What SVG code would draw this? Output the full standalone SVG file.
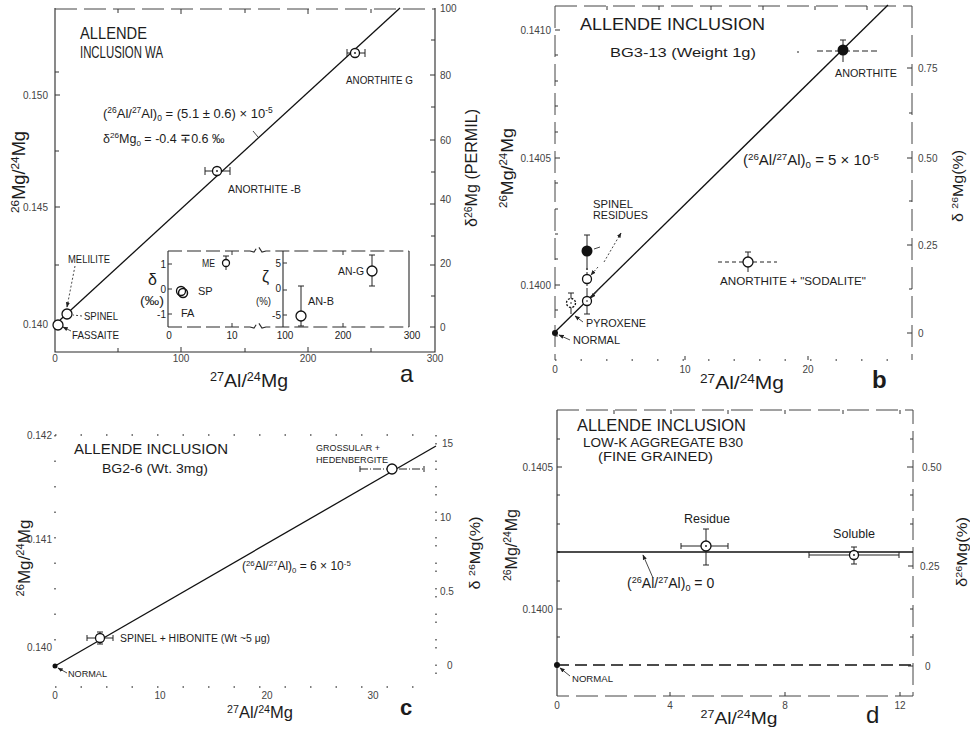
<svg xmlns="http://www.w3.org/2000/svg" width="970" height="731" viewBox="0 0 970 731">
<defs>
<style>
.t{font-family:"Liberation Sans",Arial,sans-serif;fill:#1c1c1c}
.tk{font-size:10px;fill:#444}
.s{font-size:11px}
.sp{font-size:65%}
.ax{stroke:#2a2a2a;stroke-width:1.1;fill:none}
.ad{stroke:#444;stroke-width:1;fill:none;stroke-dasharray:22,7}
.dt{stroke:#555;stroke-width:1.5;fill:none;stroke-dasharray:1.5,24}
.tic{stroke:#333;stroke-width:1;fill:none}
.ln{stroke:#111;stroke-width:1.3;fill:none}
.eb{stroke:#222;stroke-width:1;fill:none}
.oc{fill:#fff;stroke:#111;stroke-width:1.3}
.fc{fill:#111}
.ld{stroke:#333;stroke-width:0.9;fill:none;stroke-dasharray:2,2}
.la{stroke:#333;stroke-width:0.9;fill:none}
</style>
<marker id="ah" viewBox="0 0 8 8" refX="7" refY="4" markerWidth="6" markerHeight="6" orient="auto"><path d="M0,1 L8,4 L0,7 z" fill="#222"/></marker>
</defs>
<rect width="970" height="731" fill="#fff"/>

<!-- ================= PANEL A ================= -->
<g id="panel-a">
<g id="a-axes">
<path class="ax" d="M55,8 V352 H435 V8"/>
<path class="ad" d="M55,9 H435"/>
<path class="tic" d="M55,72 h4 M55,95 h5 M55,151 h4 M55,207 h5 M55,265 h4 M55,324 h5 M435,40 h-4 M435,75 h-5 M435,107 h-4 M435,140 h-5 M435,172 h-4 M435,204 h-5 M435,236 h-4 M435,265 h-5 M435,296 h-4 M435,327 h-5 M118,352 v-4 M181,352 v-5 M245,352 v-4 M308,352 v-5 M371,352 v-4 M118,9 v4 M181,9 v5 M245,9 v4 M308,9 v5 M371,9 v4"/>
<g class="t tk">
<text x="48" y="99" text-anchor="end">0.150</text>
<text x="48" y="211" text-anchor="end">0.145</text>
<text x="48" y="328" text-anchor="end">0.140</text>
<text x="440" y="12">100</text>
<text x="440" y="79">80</text>
<text x="440" y="144">60</text>
<text x="440" y="203">40</text>
<text x="440" y="267">20</text>
<text x="440" y="331">0</text>
<text x="55" y="362" text-anchor="middle">0</text>
<text x="181" y="362" text-anchor="middle">100</text>
<text x="308" y="362" text-anchor="middle">200</text>
<text x="435" y="362" text-anchor="middle">300</text>
</g>
<text class="t" font-size="18" transform="translate(25,172) rotate(-90)" text-anchor="middle" textLength="82" lengthAdjust="spacingAndGlyphs"><tspan class="sp" dy="-6">26</tspan><tspan dy="6">Mg/</tspan><tspan class="sp" dy="-6">24</tspan><tspan dy="6">Mg</tspan></text>
<text class="t" font-size="16" transform="translate(477,168) rotate(-90)" text-anchor="middle" textLength="118" lengthAdjust="spacingAndGlyphs">δ<tspan class="sp" dy="-5">26</tspan><tspan dy="5">Mg (PERMIL)</tspan></text>
<text class="t" font-size="19" x="249" y="387" text-anchor="middle" textLength="78" lengthAdjust="spacingAndGlyphs"><tspan class="sp" dy="-6">27</tspan><tspan dy="6">Al/</tspan><tspan class="sp" dy="-6">24</tspan><tspan dy="6">Mg</tspan></text>
<text class="t" font-size="24" x="400" y="382">a</text>
</g>
<g id="a-title" class="t">
<text x="80" y="39" font-size="16.5" textLength="67" lengthAdjust="spacingAndGlyphs">ALLENDE</text>
<text x="80" y="58" font-size="16.5" textLength="83" lengthAdjust="spacingAndGlyphs">INCLUSION WA</text>
<text x="103" y="118" font-size="13">(<tspan class="sp" dy="-5">26</tspan><tspan dy="5">Al/</tspan><tspan class="sp" dy="-5">27</tspan><tspan dy="5">Al)</tspan><tspan class="sp" dy="3">0</tspan><tspan dy="-3"> = (5.1 ± 0.6) × 10</tspan><tspan class="sp" dy="-5">-5</tspan></text>
<text x="103" y="143" font-size="12.5">δ<tspan class="sp" dy="-5">26</tspan><tspan dy="5">Mg</tspan><tspan class="sp" dy="3">0</tspan><tspan dy="-3"> = -0.4 ∓0.6 ‰</tspan></text>
</g>
<g id="a-fit">
<path class="ln" stroke-width="1.6" d="M60,320 L400,8"/>
<path class="la" d="M253,131 L258,137"/>
</g>
<g id="a-anorthite-g">
<path class="eb" d="M347,53 H365 M347,49 V57 M365,49 V57"/>
<circle class="oc" cx="355" cy="53" r="4.5"/><circle class="fc" cx="355" cy="53" r="0.9"/>
<text class="t s" x="346" y="84" textLength="67" lengthAdjust="spacingAndGlyphs">ANORTHITE G</text>
</g>
<g id="a-anorthite-b">
<path class="eb" d="M205,171 H230 M205,167 V175 M230,167 V175"/>
<circle class="oc" cx="217" cy="171" r="4.5"/><circle class="fc" cx="217" cy="171" r="0.9"/>
<text class="t s" x="228" y="193" textLength="73" lengthAdjust="spacingAndGlyphs">ANORTHITE -B</text>
</g>
<g id="a-low-points">
<circle class="oc" cx="58" cy="325" r="5"/>
<circle class="oc" cx="67" cy="314" r="5"/>
<text class="t s" x="68" y="263" textLength="42" lengthAdjust="spacingAndGlyphs">MELILITE</text>
<text class="t s" x="84" y="320" textLength="34" lengthAdjust="spacingAndGlyphs">SPINEL</text>
<text class="t s" x="72" y="339" textLength="47" lengthAdjust="spacingAndGlyphs">FASSAITE</text>
</g>
<g id="a-inset">
<path class="ax" d="M168,251 V327 M283,251 V327 M409,251 V327"/>
<path class="ax" stroke-dasharray="14,5" d="M168,251 H250 L254,252 L258,246 L262,252 L266,251 H409 M168,327 H250 L254,328 L258,322 L262,328 L266,327 H409"/>
<path class="tic" d="M168,264 h4 M168,289 h4 M168,314 h4 M283,263 h4 M283,290 h4 M283,315 h4 M232,327 v-4 M232,251 v4 M343,327 v-4 M343,251 v4"/>
<g class="t" font-size="10" fill="#444">
<text x="166" y="268" text-anchor="end">1</text>
<text x="166" y="293" text-anchor="end">0</text>
<text x="166" y="318" text-anchor="end">-1</text>
<text x="281" y="267" text-anchor="end">5</text>
<text x="281" y="292" text-anchor="end">0</text>
<text x="281" y="319" text-anchor="end">-5</text>
<text x="169" y="339" text-anchor="middle">0</text>
<text x="232" y="339" text-anchor="middle">10</text>
<text x="285" y="339" text-anchor="middle">100</text>
<text x="343" y="339" text-anchor="middle">200</text>
<text x="412" y="339" text-anchor="middle">300</text>
</g>
<text class="t" font-size="16" x="148" y="285">δ</text>
<text class="t" font-size="12" x="140" y="305" textLength="24" lengthAdjust="spacingAndGlyphs">(‰)</text>
<text class="t" font-size="16" x="262" y="282">ζ</text>
<text class="t" font-size="11" x="256" y="305" textLength="15" lengthAdjust="spacingAndGlyphs">(%)</text>
<path class="eb" d="M226,256 V270 M223,256 H229"/>
<circle class="oc" cx="226" cy="263" r="3.5"/>
<text class="t" font-size="10" x="202" y="267" textLength="13" lengthAdjust="spacingAndGlyphs">ME</text>
<circle class="oc" cx="181" cy="291" r="4.5" stroke-width="1.7"/>
<circle cx="183" cy="293" r="4.5" fill="none" stroke="#111" stroke-width="1.5"/>
<text class="t s" x="198" y="295">SP</text>
<text class="t s" x="181" y="317">FA</text>
<path class="eb" d="M301,286 V326 M298,286 H304 M298,326 H304"/>
<circle class="oc" cx="301" cy="316" r="5"/>
<text class="t s" x="308" y="305" textLength="26" lengthAdjust="spacingAndGlyphs">AN-B</text>
<path class="eb" d="M372,255 V286 M369,255 H375 M369,286 H375"/>
<circle class="oc" cx="372" cy="271" r="5"/>
<text class="t s" x="338" y="275" textLength="26" lengthAdjust="spacingAndGlyphs">AN-G</text>
</g>
</g>

<!-- ================= PANEL B ================= -->
<g id="panel-b">
<g id="b-axes">
<path class="ad" d="M555,6 V360 M912,6 V360 M555,6 H912"/>
<path class="dt" d="M555,360 H912"/>
<path class="tic" d="M555,30 h5 M555,55 h3 M555,81 h3 M555,106 h3 M555,132 h3 M555,158 h5 M555,183 h3 M555,209 h3 M555,234 h3 M555,259 h3 M555,285 h5 M555,310 h3 M555,336 h3 M912,68 h-5 M912,113 h-3 M912,158 h-5 M912,201 h-3 M912,245 h-5 M912,289 h-3 M912,333 h-5 M607,6 v4 M659,6 v4 M711,6 v4 M763,6 v4 M815,6 v4 M867,6 v4 M685,360 v-4 M808,360 v-4"/>
<g class="t tk">
<text x="551" y="34" text-anchor="end">0.1410</text>
<text x="551" y="162" text-anchor="end">0.1405</text>
<text x="551" y="289" text-anchor="end">0.1400</text>
<text x="918" y="72">0.75</text>
<text x="918" y="162">0.50</text>
<text x="918" y="249">0.25</text>
<text x="918" y="337">0</text>
<text x="555" y="373" text-anchor="middle">0</text>
<text x="685" y="373" text-anchor="middle">10</text>
<text x="808" y="373" text-anchor="middle">20</text>
</g>
<text class="t" font-size="17" transform="translate(513,168) rotate(-90)" text-anchor="middle" textLength="80" lengthAdjust="spacingAndGlyphs"><tspan class="sp" dy="-6">26</tspan><tspan dy="6">Mg/</tspan><tspan class="sp" dy="-6">24</tspan><tspan dy="6">Mg</tspan></text>
<text class="t" font-size="15" transform="translate(963,186) rotate(-90)" text-anchor="middle" textLength="72" lengthAdjust="spacingAndGlyphs">δ <tspan class="sp" dy="-5">26</tspan><tspan dy="5">Mg(%)</tspan></text>
<text class="t" font-size="19" x="742" y="389" text-anchor="middle" textLength="84" lengthAdjust="spacingAndGlyphs"><tspan class="sp" dy="-6">27</tspan><tspan dy="6">Al/</tspan><tspan class="sp" dy="-6">24</tspan><tspan dy="6">Mg</tspan></text>
<text class="t" font-size="24" font-weight="bold" x="872" y="388">b</text>
</g>
<g id="b-title" class="t">
<text x="580" y="30" font-size="17" textLength="185" lengthAdjust="spacingAndGlyphs">ALLENDE  INCLUSION</text>
<text x="610" y="57" font-size="13" textLength="146" lengthAdjust="spacingAndGlyphs">BG3-13 (Weight 1g)</text>
<text x="743" y="165" font-size="15">(<tspan class="sp" dy="-5">26</tspan><tspan dy="5">Al/</tspan><tspan class="sp" dy="-5">27</tspan><tspan dy="5">Al)</tspan><tspan class="sp" dy="3">0</tspan><tspan dy="-3"> = 5 × 10</tspan><tspan class="sp" dy="-5">-5</tspan></text>
</g>
<g id="b-fit"><path class="ln" d="M555,332 L888,5"/></g>
<g id="b-anorthite">
<path class="eb" d="M843,40 V62 M840,40 H846"/>
<path class="eb" stroke-dasharray="6,3" d="M797,52 H799 M817,51 H880"/>
<circle class="fc" cx="843" cy="50" r="5.5"/>
<text class="t s" x="835" y="77" textLength="62" lengthAdjust="spacingAndGlyphs">ANORTHITE</text>
</g>
<g id="b-spinel">
<text class="t s" x="593" y="208" textLength="40" lengthAdjust="spacingAndGlyphs">SPINEL</text>
<text class="t s" x="593" y="219" textLength="55" lengthAdjust="spacingAndGlyphs">RESIDUES</text>
<path class="eb" d="M587,235 V270 M584,235 H590"/>
<circle class="fc" cx="587" cy="251" r="5.5"/>
<path class="eb" stroke-dasharray="2,2" d="M587,268 V291"/>
<circle class="oc" cx="587" cy="279" r="4.5"/>
<path class="eb" d="M587,290 V314 M584,314 H590"/>
<circle class="oc" cx="587" cy="301" r="4.5"/><circle class="fc" cx="587" cy="301" r="0.8"/>
<path class="eb" d="M571,293 V314 M568,293 H574"/>
<circle class="oc" cx="571" cy="303" r="4.5" stroke-dasharray="2,1.5"/><circle class="fc" cx="571" cy="303" r="0.8"/>
</g>
<g id="b-labels">
<text class="t s" x="586" y="327" textLength="60" lengthAdjust="spacingAndGlyphs">PYROXENE</text>
<circle class="fc" cx="555" cy="333" r="3"/>
<text class="t s" x="573" y="344" textLength="47" lengthAdjust="spacingAndGlyphs">NORMAL</text>
</g>
<g id="b-sodalite">
<path class="eb" d="M748,252 V272 M745,252 H751"/>
<path class="eb" stroke-dasharray="4,3" d="M718,262 H777"/>
<circle class="oc" cx="748" cy="262" r="5"/>
<text class="t s" x="720" y="285" textLength="146" lengthAdjust="spacingAndGlyphs">ANORTHITE + "SODALITE"</text>
</g>
</g>

<!-- ================= PANEL C ================= -->
<g id="panel-c">
<g id="c-axes">
<path class="dt" d="M55,435 H436 M55,687 H436 M55,435 V687 M436,435 V687"/>
<path class="dt" stroke-dasharray="1.5,35.5" d="M436,443 V687"/>
<g class="t tk">
<text x="52" y="439" text-anchor="end">0.142</text>
<text x="52" y="543" text-anchor="end">0.141</text>
<text x="52" y="651" text-anchor="end">0.140</text>
<text x="442" y="447">15</text>
<text x="440" y="521">10</text>
<text x="440" y="595">0.5</text>
<text x="447" y="669">0</text>
<text x="55" y="699" text-anchor="middle">0</text>
<text x="160" y="699" text-anchor="middle">10</text>
<text x="267" y="699" text-anchor="middle">20</text>
<text x="373" y="699" text-anchor="middle">30</text>
</g>
<text class="t" font-size="16" transform="translate(30,558) rotate(-90)" text-anchor="middle" textLength="77" lengthAdjust="spacingAndGlyphs"><tspan class="sp" dy="-6">26</tspan><tspan dy="6">Mg/</tspan><tspan class="sp" dy="-6">24</tspan><tspan dy="6">Mg</tspan></text>
<text class="t" font-size="15" transform="translate(480,553) rotate(-90)" text-anchor="middle" textLength="73" lengthAdjust="spacingAndGlyphs">δ <tspan class="sp" dy="-5">26</tspan><tspan dy="5">Mg(%)</tspan></text>
<text class="t" font-size="16" x="260" y="718" text-anchor="middle" textLength="66" lengthAdjust="spacingAndGlyphs"><tspan class="sp" dy="-5">27</tspan><tspan dy="5">Al/</tspan><tspan class="sp" dy="-5">24</tspan><tspan dy="5">Mg</tspan></text>
<text class="t" font-size="22" font-weight="bold" x="400" y="715">c</text>
</g>
<g id="c-title" class="t">
<text x="74" y="454" font-size="15" textLength="154" lengthAdjust="spacingAndGlyphs">ALLENDE  INCLUSION</text>
<text x="102" y="473" font-size="12" textLength="106" lengthAdjust="spacingAndGlyphs">BG2-6  (Wt. 3mg)</text>
<text x="242" y="570" font-size="12">(<tspan class="sp" dy="-4">26</tspan><tspan dy="4">Al/</tspan><tspan class="sp" dy="-4">27</tspan><tspan dy="4">Al)</tspan><tspan class="sp" dy="3">0</tspan><tspan dy="-3"> = 6 × 10</tspan><tspan class="sp" dy="-4">-5</tspan></text>
</g>
<g id="c-fit"><path class="ln" stroke-width="1.1" d="M55,666 L436,446"/></g>
<g id="c-grossular">
<path class="eb" stroke-dasharray="8,2,1,2" d="M360,469 H424"/>
<path class="eb" d="M360,466 V472 M424,466 V472"/>
<circle class="oc" cx="392" cy="469" r="5"/>
<text class="t" font-size="9" x="316" y="451" textLength="64" lengthAdjust="spacingAndGlyphs">GROSSULAR +</text>
<text class="t" font-size="9" x="316" y="463" textLength="72" lengthAdjust="spacingAndGlyphs">HEDENBERGITE</text>
</g>
<g id="c-spinel">
<path class="eb" d="M87,638 H113 M87,635 V641 M113,635 V641 M100,632 V644 M97,632 H103 M97,644 H103"/>
<circle class="oc" cx="100" cy="638" r="4.5"/>
<text class="t" font-size="10" x="120" y="642" textLength="150" lengthAdjust="spacingAndGlyphs">SPINEL + HIBONITE (Wt ~5 μg)</text>
</g>
<g id="c-normal">
<circle class="fc" cx="55" cy="666" r="2.5"/>
<text class="t" font-size="9" x="68" y="677" textLength="39" lengthAdjust="spacingAndGlyphs">NORMAL</text>
</g>
</g>

<!-- ================= PANEL D ================= -->
<g id="panel-d">
<g id="d-axes">
<path class="ax" d="M557,410 V696"/>
<path class="ad" d="M557,410 H913 V696 H557"/>
<path class="tic" d="M557,439 h3 M557,467 h5 M557,495 h3 M557,524 h3 M557,552 h3 M557,581 h3 M557,609 h5 M557,637 h3 M913,439 h-3 M913,467 h-6 M913,495 h-3 M913,524 h-3 M913,566 h-5 M913,609 h-3 M913,637 h-3 M913,666 h-5 M614,410 v4 M671,410 v4 M728,410 v4 M785,410 v4 M843,410 v4 M900,410 v4 M670,696 v-4 M785,696 v-4 M900,696 v-4"/>
<g class="t tk">
<text x="553" y="471" text-anchor="end">0.1405</text>
<text x="553" y="613" text-anchor="end">0.1400</text>
<text x="922" y="471">0.50</text>
<text x="920" y="570">0.25</text>
<text x="925" y="670">0</text>
<text x="557" y="709" text-anchor="middle">0</text>
<text x="670" y="709" text-anchor="middle">4</text>
<text x="785" y="709" text-anchor="middle">8</text>
<text x="900" y="709" text-anchor="middle">12</text>
</g>
<text class="t" font-size="17" transform="translate(517,545) rotate(-90)" text-anchor="middle" textLength="72" lengthAdjust="spacingAndGlyphs"><tspan class="sp" dy="-6">26</tspan><tspan dy="6">Mg/</tspan><tspan class="sp" dy="-6">24</tspan><tspan dy="6">Mg</tspan></text>
<text class="t" font-size="15" transform="translate(967,552) rotate(-90)" text-anchor="middle" textLength="70" lengthAdjust="spacingAndGlyphs">δ<tspan class="sp" dy="-5">26</tspan><tspan dy="5">Mg(%)</tspan></text>
<text class="t" font-size="17" x="739" y="724" text-anchor="middle" textLength="77" lengthAdjust="spacingAndGlyphs"><tspan class="sp" dy="-6">27</tspan><tspan dy="6">Al/</tspan><tspan class="sp" dy="-6">24</tspan><tspan dy="6">Mg</tspan></text>
<text class="t" font-size="24" x="866" y="723">d</text>
</g>
<g id="d-title" class="t">
<text x="577" y="431" font-size="16" textLength="169" lengthAdjust="spacingAndGlyphs">ALLENDE INCLUSION</text>
<text x="583" y="447" font-size="12" textLength="160" lengthAdjust="spacingAndGlyphs">LOW-K  AGGREGATE  B30</text>
<text x="598" y="461" font-size="12" textLength="115" lengthAdjust="spacingAndGlyphs">(FINE  GRAINED)</text>
<text x="627" y="588" font-size="14">(<tspan class="sp" dy="-5">26</tspan><tspan dy="5">Al/</tspan><tspan class="sp" dy="-5">27</tspan><tspan dy="5">Al)</tspan><tspan class="sp" dy="3">0</tspan><tspan dy="-3"> = 0</tspan></text>
</g>
<g id="d-lines">
<path class="ln" d="M557,552 H913"/>
<path class="ln" stroke-dasharray="12,6" d="M557,665 H913"/>
</g>
<g id="d-residue">
<path class="eb" d="M681,546 H728 M681,543 V549 M728,543 V549 M706,529 V565 M703,529 H709 M703,565 H709"/>
<circle class="oc" cx="706" cy="546" r="5"/><circle class="fc" cx="706" cy="546" r="0.9"/>
<text class="t" font-size="13" x="684" y="523" textLength="46" lengthAdjust="spacingAndGlyphs">Residue</text>
</g>
<g id="d-soluble">
<path class="eb" d="M809,555 H899 M809,552 V558 M899,552 V558 M854,547 V564 M851,547 H857 M851,564 H857"/>
<circle class="oc" cx="854" cy="555" r="4.5"/><circle class="fc" cx="854" cy="555" r="0.9"/>
<text class="t" font-size="13" x="833" y="538" textLength="42" lengthAdjust="spacingAndGlyphs">Soluble</text>
</g>
<g id="d-normal">
<circle class="fc" cx="557" cy="665" r="3"/>
<text class="t" font-size="9" x="572" y="682" textLength="41" lengthAdjust="spacingAndGlyphs">NORMAL</text>
</g>
</g>

<!-- ================= CONNECTORS / LEADERS ================= -->
<g id="connectors">
<path class="ld" d="M75,266 L67,307" marker-end="url(#ah)"/>
<path class="ld" d="M82,316 L73,315"/>
<path class="la" d="M71,331 L63,327" marker-end="url(#ah)"/>
<path class="la" d="M594,249 L600,247"/>
<path class="ld" d="M604,262 L621,233" marker-end="url(#ah)"/>
<path class="ld" d="M598,267 L591,275" marker-end="url(#ah)"/>
<path class="la" d="M599,289 L591,298" marker-end="url(#ah)"/>
<path class="la" d="M583,322 L575,316" marker-end="url(#ah)"/>
<path class="la" d="M570,340 L559,335" marker-end="url(#ah)"/>
<path class="la" d="M67,673 L58,668" marker-end="url(#ah)"/>
<path class="la" d="M653,578 L643,555" marker-end="url(#ah)"/>
<path class="la" d="M570,676 L560,668" marker-end="url(#ah)"/>
</g>
</svg>
